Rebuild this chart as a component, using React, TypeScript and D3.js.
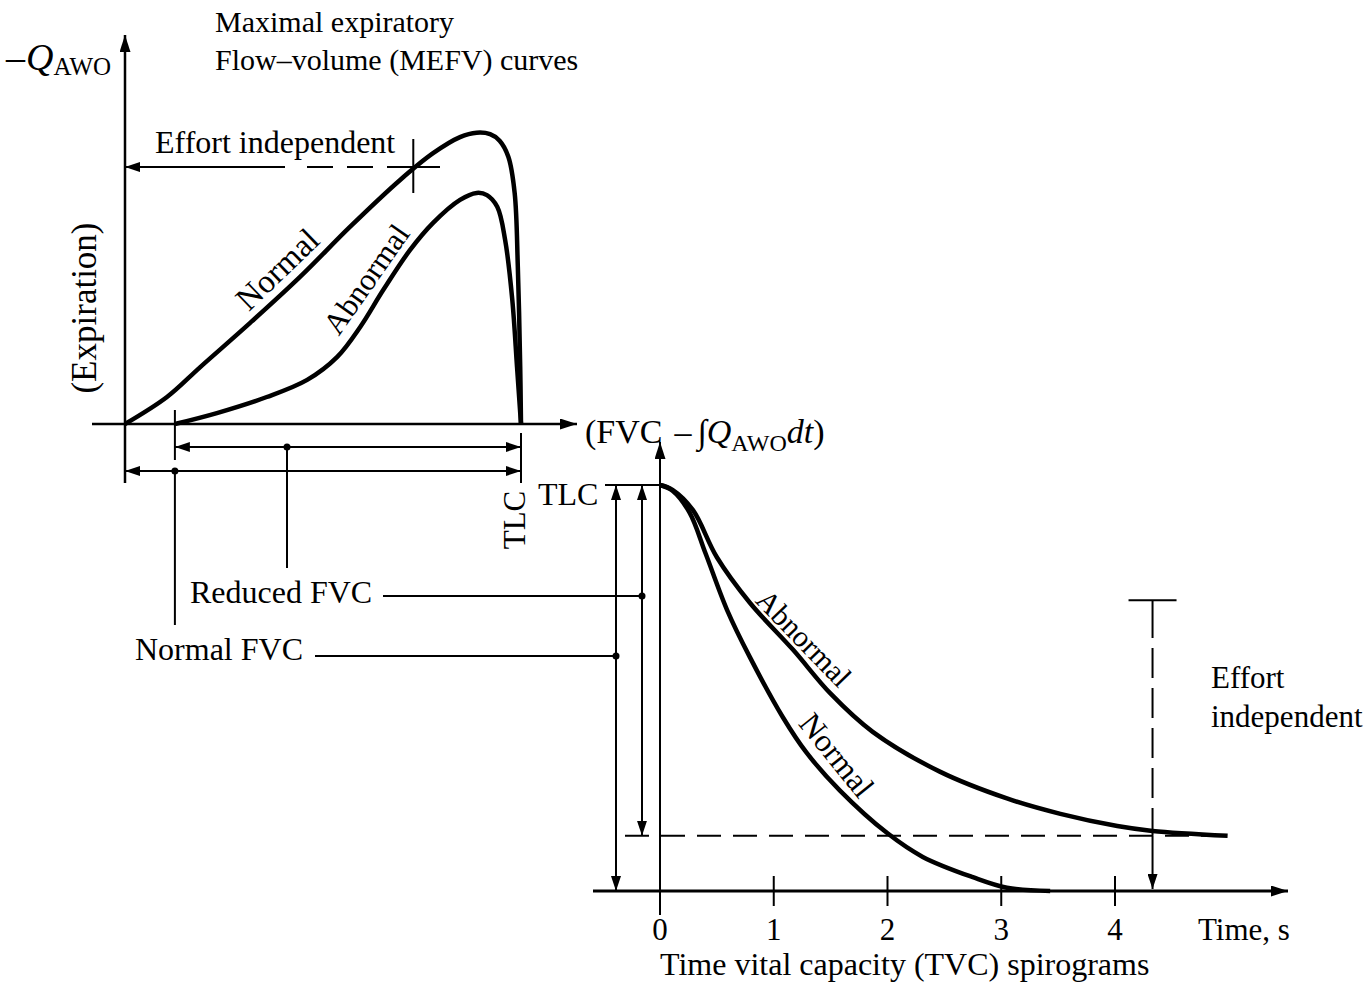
import React, { useEffect, useRef } from 'react';
import * as d3 from 'd3';

const W = 1371;
const H = 989;
const FONT = "'Liberation Serif', 'Times New Roman', serif";

// MEFV curves: [volume expired (L), flow (L/s)]
const mefvNormal: [number, number][] = [
  [0, 0], [0.53, 0.74], [0.95, 1.56], [1.58, 2.77], [2.21, 4.03], [2.84, 5.4],
  [3.47, 6.68], [3.89, 7.42], [4.23, 7.86], [4.44, 7.98], [4.61, 7.94], [4.73, 7.76],
  [4.84, 7.32], [4.92, 6.33], [4.96, 4.3], [4.99, 1.56], [5.0, 0],
];
const mefvAbnormal: [number, number][] = [
  [0.63, 0], [1.16, 0.3], [1.79, 0.74], [2.3, 1.21], [2.68, 1.84], [2.97, 2.66],
  [3.26, 3.67], [3.6, 4.77], [3.89, 5.51], [4.23, 6.14], [4.44, 6.33], [4.57, 6.27],
  [4.7, 5.95], [4.8, 5.04], [4.89, 3.4], [4.95, 1.56], [5.0, 0],
];

// TVC spirograms: [time (s), volume left to expire (L)]
const tvcNormal: [number, number][] = [
  [0, 5.0], [0.11, 4.93], [0.26, 4.66], [0.4, 4.16], [0.59, 3.46], [0.79, 2.88],
  [1.08, 2.14], [1.29, 1.7], [1.58, 1.24], [2.0, 0.71], [2.31, 0.42], [2.75, 0.17],
  [3.05, 0.04], [3.43, 0],
];
const tvcAbnormal: [number, number][] = [
  [0, 5.0], [0.11, 4.94], [0.29, 4.69], [0.5, 4.11], [0.79, 3.55], [1.17, 2.97],
  [1.5, 2.43], [1.87, 1.96], [2.46, 1.47], [3.05, 1.14], [3.52, 0.95], [4.02, 0.8],
  [4.33, 0.74], [4.99, 0.68],
];

const timeTicks = [0, 1, 2, 3, 4];
const timeTickLabels = ['0', '1', '2', '3', '4'];

const reducedStartVolume = 0.63;
const effortFlow = 7.04;
const effortVolume = 3.64;
const reducedLevel = 0.68;
const effortTime = 4.33;
const effortTop = 3.58;

const App: React.FC = () => {
  const ref = useRef<SVGSVGElement>(null);

  useEffect(() => {
    if (!ref.current) return;
    const svg = d3.select(ref.current).attr('width', W).attr('height', H);
    svg.selectAll('*').remove();

    const defs = svg.append('defs');
    const marker = (id: string, len: number, half: number) =>
      defs
        .append('marker')
        .attr('id', id)
        .attr('viewBox', `0 0 ${len} ${half * 2}`)
        .attr('refX', len)
        .attr('refY', half)
        .attr('markerWidth', len)
        .attr('markerHeight', half * 2)
        .attr('markerUnits', 'userSpaceOnUse')
        .attr('orient', 'auto-start-reverse')
        .append('path')
        .attr('d', `M0,0L${len},${half}L0,${half * 2}Z`)
        .attr('fill', '#000');
    marker('ax', 17, 5.5);
    marker('dim', 15, 5);

    const g = svg.append('g');
    const line = (x1: number, y1: number, x2: number, y2: number, w = 2) =>
      g
        .append('line')
        .attr('x1', x1)
        .attr('y1', y1)
        .attr('x2', x2)
        .attr('y2', y2)
        .attr('stroke', '#000')
        .attr('stroke-width', w);
    const dot = (x: number, y: number) => g.append('circle').attr('cx', x).attr('cy', y).attr('r', 3.5).attr('fill', '#000');
    const text = (x: number, y: number, s: string, size = 32) =>
      g
        .append('text')
        .attr('x', x)
        .attr('y', y)
        .attr('font-family', FONT)
        .attr('font-size', size)
        .attr('fill', '#000')
        .text(s);
    const rotText = (cx: number, cy: number, angle: number, s: string, size = 31) =>
      g
        .append('text')
        .attr('transform', `translate(${cx},${cy}) rotate(${angle})`)
        .attr('text-anchor', 'middle')
        .attr('dy', '0.35em')
        .attr('font-family', FONT)
        .attr('font-size', size)
        .text(s);

    const curve = d3.curveCatmullRom.alpha(0.5);

    // ---------- upper panel: flow-volume ----------
    const xVol = d3.scaleLinear().domain([0, 5]).range([125, 521]);
    const yFlow = d3.scaleLinear().domain([0, 8]).range([424, 132]);

    line(92, yFlow(0), 577, yFlow(0), 2.5).attr('marker-end', 'url(#ax)');
    line(xVol(0), 483, xVol(0), 35, 2.5).attr('marker-end', 'url(#ax)');

    const flowLine = d3
      .line<[number, number]>()
      .x((d) => xVol(d[0]))
      .y((d) => yFlow(d[1]))
      .curve(curve);
    [mefvNormal, mefvAbnormal].forEach((s) =>
      g.append('path').attr('d', flowLine(s)!).attr('fill', 'none').attr('stroke', '#000').attr('stroke-width', 4.5)
    );

    // volume dimension lines
    line(xVol(reducedStartVolume), 410, xVol(reducedStartVolume), 460, 2);
    line(xVol(5), 433, xVol(5), 483, 2);
    line(xVol(reducedStartVolume), 447, xVol(5), 447, 2)
      .attr('marker-start', 'url(#dim)')
      .attr('marker-end', 'url(#dim)');
    line(xVol(0), 471, xVol(5), 471, 2)
      .attr('marker-start', 'url(#dim)')
      .attr('marker-end', 'url(#dim)');
    dot(287, 447);
    line(287, 447, 287, 568, 2);
    dot(xVol(reducedStartVolume), 471);
    line(xVol(reducedStartVolume), 471, xVol(reducedStartVolume), 625, 2);

    // effort independent marker
    const ey = yFlow(effortFlow);
    line(285, ey, xVol(0), ey, 2).attr('marker-end', 'url(#dim)');
    line(307, ey, 440, ey, 2).attr('stroke-dasharray', '26 14 26 14 60');
    line(xVol(effortVolume), 139, xVol(effortVolume), 193, 2);

    // upper labels
    text(215, 32, 'Maximal expiratory', 30);
    text(215, 70, 'Flow\u2013volume (MEFV) curves', 30);
    const qLab = g.append('text').attr('x', 6).attr('y', 70).attr('font-family', FONT).attr('font-size', 38);
    qLab.append('tspan').text('\u2013');
    qLab.append('tspan').attr('font-style', 'italic').attr('dx', 1).text('Q');
    qLab.append('tspan').attr('font-size', 25).attr('dy', 5).text('AWO');
    text(155, 153, 'Effort independent', 32);
    rotText(84, 308, -90, '(Expiration)', 35);
    rotText(277, 269, -44, 'Normal', 33);
    rotText(366, 279, -55, 'Abnormal', 31);
    rotText(514, 520, -90, 'TLC', 31);

    const fvc = g.append('text').attr('x', 585).attr('y', 443).attr('font-family', FONT).attr('font-size', 34);
    fvc.append('tspan').text('(FVC');
    fvc.append('tspan').attr('dx', 12).text('\u2013');
    fvc.append('tspan').attr('dx', 6).text('\u222B');
    fvc.append('tspan').attr('font-style', 'italic').text('Q');
    fvc.append('tspan').attr('font-size', 24).attr('dy', 8).text('AWO');
    fvc.append('tspan').attr('font-style', 'italic').attr('dy', -8).text('dt');
    fvc.append('tspan').text(')');

    // ---------- lower panel: volume-time ----------
    const xTime = d3.scaleLinear().domain([0, 4]).range([660, 1115]);
    const yVol = d3.scaleLinear().domain([0, 5]).range([891, 485]);

    line(593, yVol(0), 1288, yVol(0), 3).attr('marker-end', 'url(#ax)');
    line(xTime(0), 915, xTime(0), 442, 2).attr('marker-end', 'url(#ax)');
    timeTicks.slice(1).forEach((t) => line(xTime(t), 876, xTime(t), 906, 2));
    timeTicks.forEach((t, i) =>
      text(xTime(t), 940, timeTickLabels[i], 31).attr('text-anchor', 'middle')
    );
    text(1198, 940, 'Time, s', 31);
    text(660, 975, 'Time vital capacity (TVC) spirograms', 32);

    const volLine = d3
      .line<[number, number]>()
      .x((d) => xTime(d[0]))
      .y((d) => yVol(d[1]))
      .curve(curve);
    [tvcNormal, tvcAbnormal].forEach((s) =>
      g.append('path').attr('d', volLine(s)!).attr('fill', 'none').attr('stroke', '#000').attr('stroke-width', 4.5)
    );

    // TLC and FVC arrows
    line(605, yVol(5), xTime(0), yVol(5), 2);
    text(538, 505, 'TLC', 32);
    line(616, yVol(5), 616, yVol(0), 2)
      .attr('marker-start', 'url(#dim)')
      .attr('marker-end', 'url(#dim)');
    line(642, yVol(5), 642, yVol(reducedLevel), 2)
      .attr('marker-start', 'url(#dim)')
      .attr('marker-end', 'url(#dim)');
    line(315, 656, 616, 656, 2);
    dot(616, 656);
    line(383, 596, 642, 596, 2);
    dot(642, 596);
    text(190, 603, 'Reduced FVC', 32);
    text(135, 660, 'Normal FVC', 32);

    // reduced FVC level and effort independent marker
    line(625, yVol(reducedLevel), 1228, yVol(reducedLevel), 2).attr('stroke-dasharray', '24 12');
    const ex = xTime(effortTime);
    line(ex - 24, yVol(effortTop), ex + 24, yVol(effortTop), 2);
    line(ex, yVol(effortTop), ex, 638, 2);
    line(ex, 648, ex, yVol(reducedLevel), 2).attr('stroke-dasharray', '30 10');
    line(ex, yVol(reducedLevel), ex, 889, 2).attr('marker-end', 'url(#dim)');
    text(1211, 688, 'Effort', 31);
    text(1211, 727, 'independent', 31);

    rotText(804, 638, 46, 'Abnormal', 30);
    rotText(837, 755, 51, 'Normal', 32);
  }, []);

  return <svg ref={ref} style={{ position: 'absolute', left: 0, top: 0, background: '#fff' }}></svg>;
};

export default App;
